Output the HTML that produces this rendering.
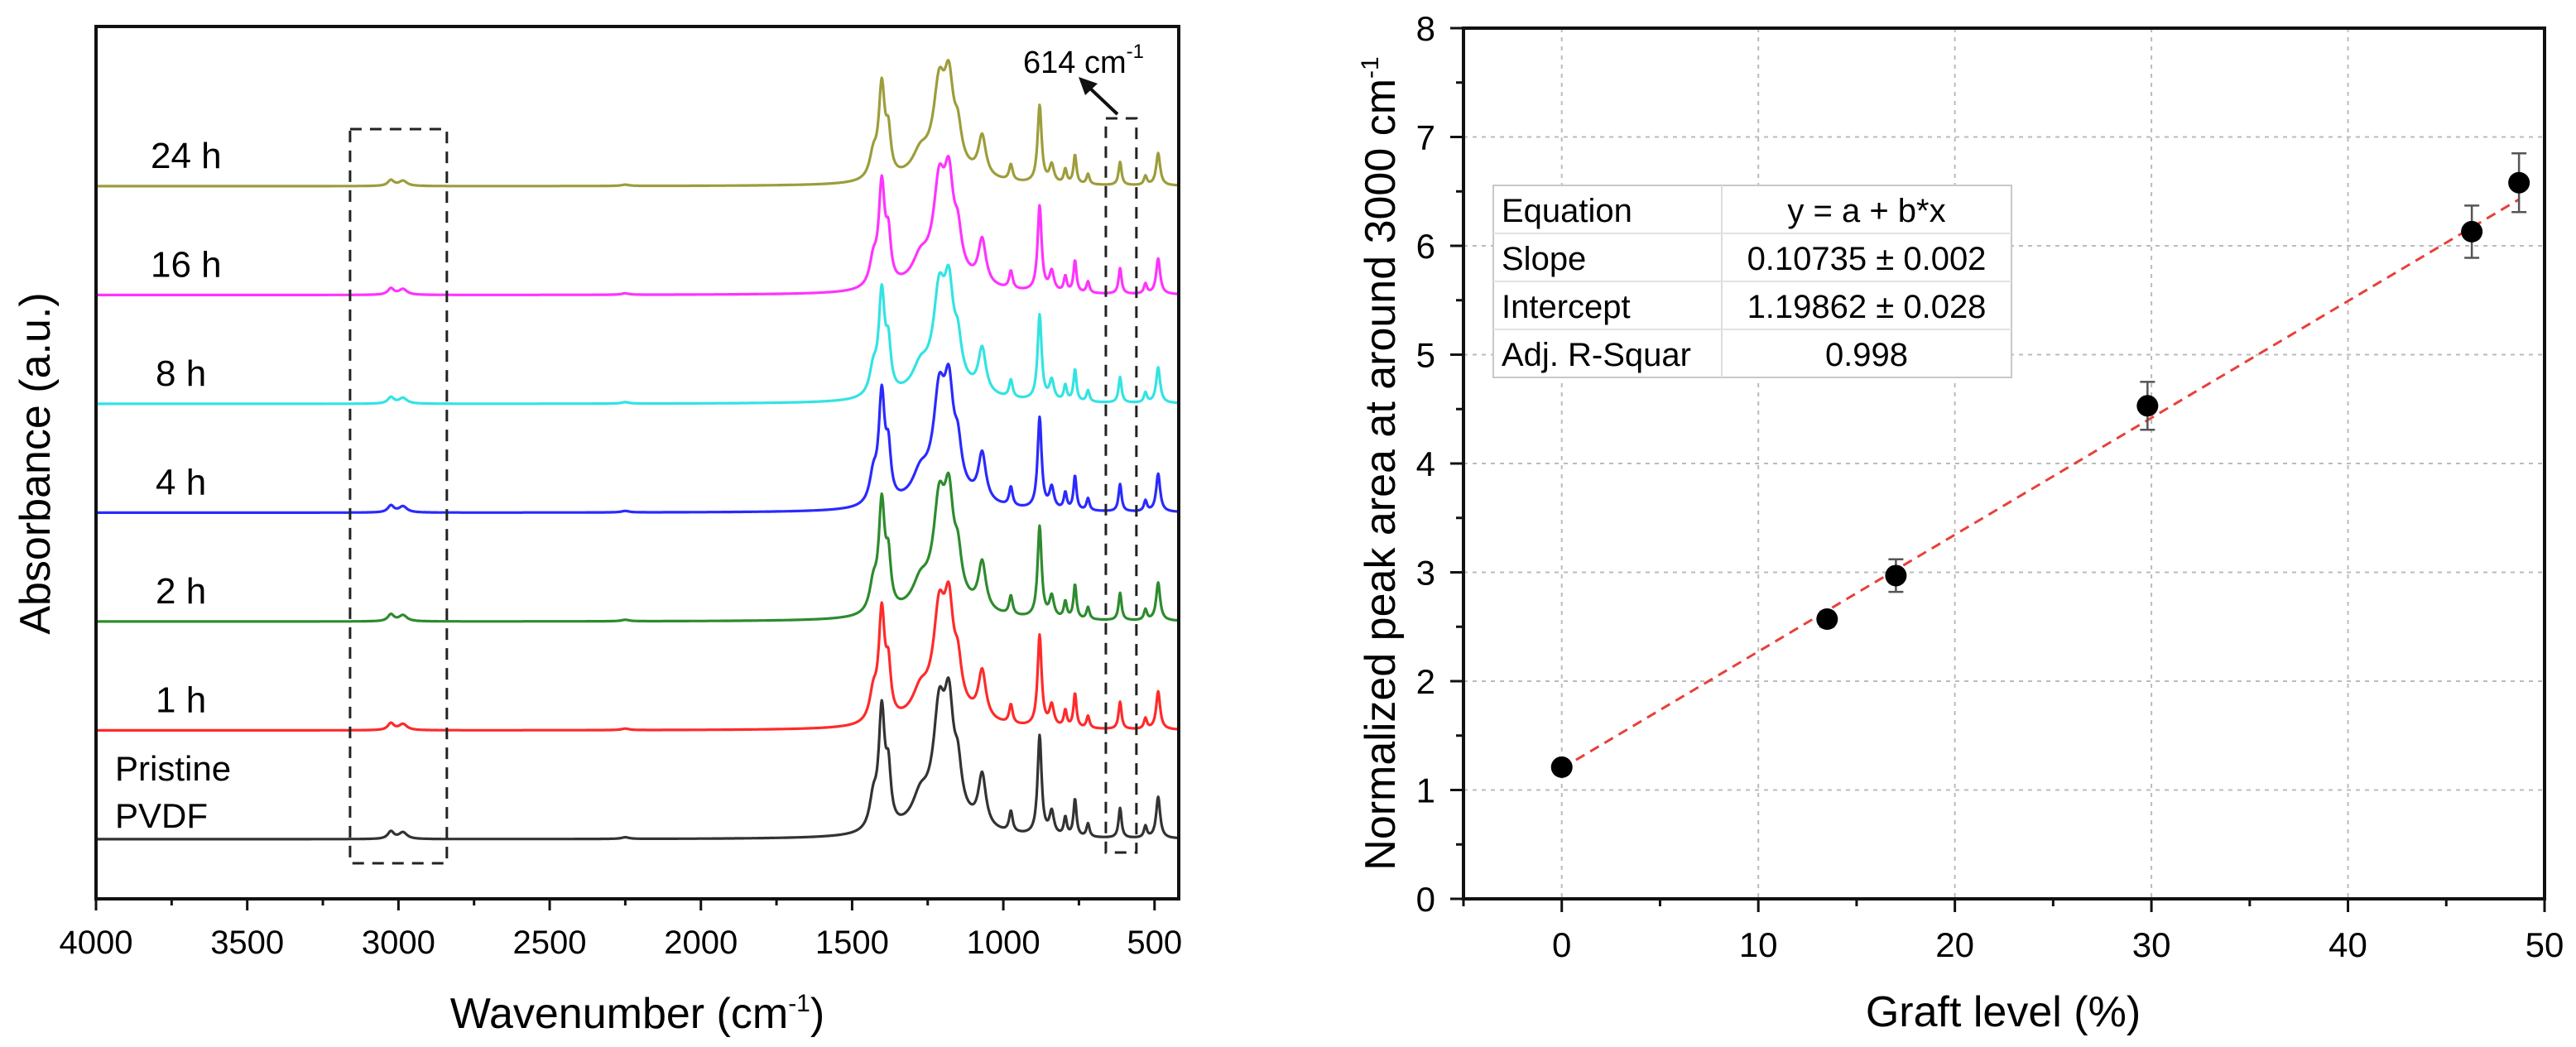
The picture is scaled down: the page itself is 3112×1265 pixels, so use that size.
<!DOCTYPE html>
<html><head><meta charset="utf-8"><style>
html,body{margin:0;padding:0;background:#fff;}
svg{display:block;font-family:"Liberation Sans",Arial,sans-serif;}
</style></head><body>
<svg id="fig" width="3112" height="1265" viewBox="0 0 3112 1265" xmlns="http://www.w3.org/2000/svg">
<g id="left"></g>
<g id="right"></g>
</svg>
<script>
// ---------- Left panel data ----------
const seriesNames = ["Pristine PVDF","1 h","2 h","4 h","8 h","16 h","24 h"];
const seriesColors = ["#333333","#ff2a2a","#2e8b2e","#2a2aff","#33e3e3","#ff33ff","#9d9d3c"];
const seriesOffsets = [0,1,2,3,4,5,6];          // stacking index
const seriesScales = [1.0,0.92,0.92,0.92,0.86,0.86,0.78];
const peakCenters = [3025,2985,2250,1430,1402,1380,1275,1200,1212,1180,1150,1070,975,880,840,795,763,720,614,530,488];
const peakHeights = [9,8,2,35,140,60,28,35,112,112,45,62,25,120,28,22,45,16,36,14,50];
const peakWidths  = [12,16,15,15,12,10,30,90,22,18,14,15,7,8,9,6,6,6,6,6,8];
const xTicksLeft = [4000,3500,3000,2500,2000,1500,1000,500];

// ---------- Right panel data ----------
const graftLevel = [0,13.5,17,29.8,46.3,48.7];
const peakArea = [1.21,2.57,2.97,4.53,6.13,6.58];
const peakErr = [0.05,0.07,0.15,0.22,0.24,0.27];
const fitIntercept = 1.19862, fitSlope = 0.10735;
const xTicksRight = [0,10,20,30,40,50];
const yTicksRight = [0,1,2,3,4,5,6,7,8];
const tableRows = [["Equation","y = a + b*x"],["Slope","0.10735 ± 0.002"],["Intercept","1.19862 ± 0.028"],["Adj. R-Squar","0.998"]];

const NS="http://www.w3.org/2000/svg";
function mk(parent,tag,attrs,text){const e=document.createElementNS(NS,tag);for(const k in attrs)e.setAttribute(k,attrs[k]);if(text!==undefined)e.textContent=text;parent.appendChild(e);return e;}

// ===== LEFT =====
const L=document.getElementById('left');
const lx0=116,lx1=1424,ly0=32,ly1=1086;
const wn2x=w=>lx0+(4000-w)*(lx1-lx0)/(4000-420);
const baseY=i=>1014-i*131.5;
function absorb(w){let s=0;for(let k=0;k<peakCenters.length;k++){const d=(w-peakCenters[k])/peakWidths[k];s+=peakHeights[k]/(1+d*d);}return s;}
seriesNames.forEach((n,i)=>{
  let d="";
  for(let w=4000;w>=420;w-=2){const x=wn2x(w),y=baseY(seriesOffsets[i])-absorb(w)*seriesScales[i];d+=(d?"L":"M")+x.toFixed(1)+","+y.toFixed(1);}
  const p=mk(L,'path',{d:d,fill:'none',stroke:seriesColors[i],'stroke-width':3.2,'stroke-linejoin':'round'});
  
  
  if(i===0){
    const t1=mk(L,'text',{x:139,y:943,'font-size':42},'Pristine');
    
    const t2=mk(L,'text',{x:139,y:1000,'font-size':42},'PVDF');
    
  } else {
    const t=mk(L,'text',{x:n.length>3?182:188,y:baseY(seriesOffsets[i])-22,'font-size':44},n);
    
  }
});
// frame
const lf=mk(L,'rect',{x:lx0,y:ly0,width:lx1-lx0,height:ly1-ly0,fill:'none',stroke:'#111','stroke-width':4});

// dashed boxes
const b1=mk(L,'rect',{x:wn2x(3160),y:156,width:wn2x(2840)-wn2x(3160),height:1043-156,fill:'none',stroke:'#222','stroke-width':3,'stroke-dasharray':'14,10'});

const b2=mk(L,'rect',{x:wn2x(661),y:143,width:wn2x(560)-wn2x(661),height:1030-143,fill:'none',stroke:'#222','stroke-width':3,'stroke-dasharray':'14,10'});

// arrow
mk(L,'line',{x1:1350,y1:138,x2:1314,y2:104,stroke:'#111','stroke-width':4});
const ah=mk(L,'polygon',{points:'1303,93 1326,101 1311,115',fill:'#111'});

const at=mk(L,'text',{x:1236,y:88,'font-size':38});

at.innerHTML='614 cm<tspan dy="-18" font-size="24">-1</tspan>';
// ticks
xTicksLeft.forEach(v=>{const x=wn2x(v);mk(L,'line',{x1:x,y1:ly1,x2:x,y2:ly1+14,stroke:'#111','stroke-width':3});
  const t=mk(L,'text',{x:x,y:1152,'font-size':40,'text-anchor':'middle'},String(v));
  
  const xm=wn2x(v-250);if(v-250>=420)mk(L,'line',{x1:xm,y1:ly1,x2:xm,y2:ly1+8,stroke:'#111','stroke-width':3});});
const lxt=mk(L,'text',{x:770,y:1242,'font-size':52,'text-anchor':'middle'});

lxt.innerHTML='Wavenumber (cm<tspan dy="-20" font-size="30">-1</tspan><tspan dy="20">)</tspan>';
const lyt=mk(L,'text',{x:0,y:0,'font-size':52,'text-anchor':'middle',transform:'translate(60,560) rotate(-90)'},'Absorbance (a.u.)');


// ===== RIGHT =====
const R=document.getElementById('right');
const rx0=1768,rx1=3074,ry0=34,ry1=1086;
const gx=v=>rx0+(v+5)*(rx1-rx0)/55;
const gy=v=>ry1-v*(ry1-ry0)/8;
// grid
xTicksRight.forEach(v=>{if(v<50){const g=mk(R,'line',{x1:gx(v),y1:ry0,x2:gx(v),y2:ry1,stroke:'#bbb','stroke-width':2,'stroke-dasharray':'5,6'});}});
yTicksRight.forEach(v=>{if(v>0&&v<8){const g=mk(R,'line',{x1:rx0,y1:gy(v),x2:rx1,y2:gy(v),stroke:'#bbb','stroke-width':2,'stroke-dasharray':'5,6'});}});
// table
const tx0=1804,tx1=2430,tsplit=2080,ty0=224,rowH=58;
const tb=mk(R,'rect',{x:tx0,y:ty0,width:tx1-tx0,height:rowH*tableRows.length,fill:'#fff',stroke:'#c8c8c8','stroke-width':2});

mk(R,'line',{x1:tsplit,y1:ty0,x2:tsplit,y2:ty0+rowH*tableRows.length,stroke:'#ddd','stroke-width':2});
tableRows.forEach((r,i)=>{
  if(i>0)mk(R,'line',{x1:tx0,y1:ty0+i*rowH,x2:tx1,y2:ty0+i*rowH,stroke:'#e2e2e2','stroke-width':2});
  const a=mk(R,'text',{x:tx0+10,y:ty0+i*rowH+44,'font-size':40},r[0]);
  
  const b=mk(R,'text',{x:(tsplit+tx1)/2,y:ty0+i*rowH+44,'font-size':40,'text-anchor':'middle'},r[1]);
  
});
// fit line
const xe=graftLevel[graftLevel.length-1];
const fl=mk(R,'line',{x1:gx(0),y1:gy(fitIntercept),x2:gx(xe),y2:gy(fitIntercept+fitSlope*xe),stroke:'#e8403a','stroke-width':3,'stroke-dasharray':'12,8'});

// points
graftLevel.forEach((g,i)=>{
  const x=gx(g),y=gy(peakArea[i]),yt=gy(peakArea[i]+peakErr[i]),yb=gy(peakArea[i]-peakErr[i]);
  const eb=mk(R,'path',{d:`M${x},${yt}L${x},${yb}M${x-9},${yt}L${x+9},${yt}M${x-9},${yb}L${x+9},${yb}`,stroke:'#555','stroke-width':2.5,fill:'none'});
  
  const c=mk(R,'circle',{cx:x,cy:y,r:13,fill:'#000'});
  
});
// axes
mk(R,'rect',{x:rx0,y:ry0,width:rx1-rx0,height:ry1-ry0,fill:'none',stroke:'#111','stroke-width':4});
yTicksRight.forEach(v=>{const y=gy(v);mk(R,'line',{x1:rx0-16,y1:y,x2:rx0,y2:y,stroke:'#111','stroke-width':3});
  if(v<8)mk(R,'line',{x1:rx0-9,y1:gy(v+0.5),x2:rx0,y2:gy(v+0.5),stroke:'#111','stroke-width':3});
  const t=mk(R,'text',{x:1734,y:y+15,'font-size':42,'text-anchor':'end'},String(v));
  });
[-5,5,15,25,35,45].forEach(v=>mk(R,'line',{x1:gx(v),y1:ry1,x2:gx(v),y2:ry1+9,stroke:'#111','stroke-width':3}));
xTicksRight.forEach(v=>{const x=gx(v);mk(R,'line',{x1:x,y1:ry1,x2:x,y2:ry1+16,stroke:'#111','stroke-width':3});
  const t=mk(R,'text',{x:x,y:1156,'font-size':42,'text-anchor':'middle'},String(v));
  });
const rxt=mk(R,'text',{x:2420,y:1240,'font-size':52,'text-anchor':'middle'},'Graft level (%)');

const ryt=mk(R,'text',{x:0,y:0,'font-size':52,'text-anchor':'middle',transform:'translate(1685,560) rotate(-90)'});

ryt.innerHTML='Normalized peak area at around 3000 cm<tspan dy="-20" font-size="30">-1</tspan>';
</script>
</body></html>
